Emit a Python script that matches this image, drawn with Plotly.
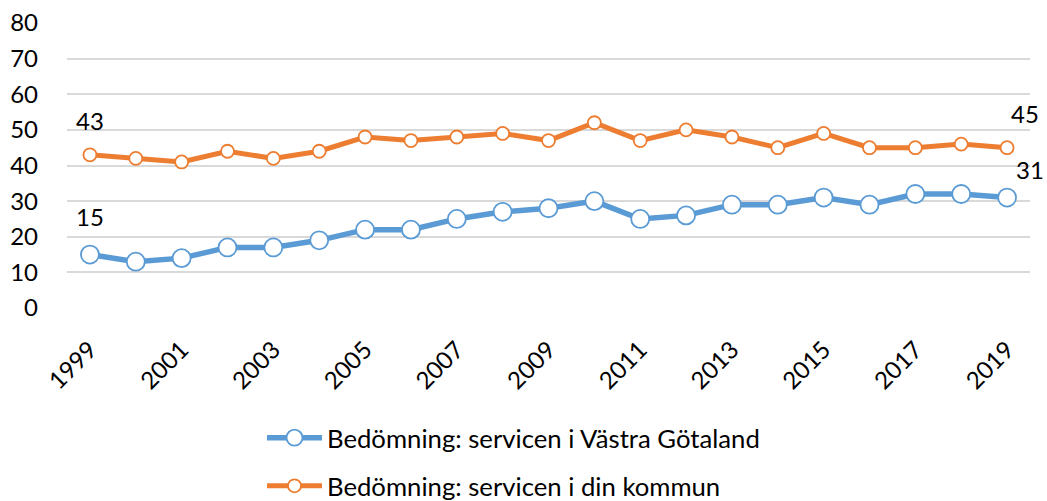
import plotly.graph_objects as go

years = [str(y) for y in range(1999, 2020)]
vg_values = [15, 13, 14, 17, 17, 19, 22, 22, 25, 27, 28, 30, 25, 26, 29, 29, 31, 29, 32, 32, 31]
kommun_values = [43, 42, 41, 44, 42, 44, 48, 47, 48, 49, 47, 52, 47, 50, 48, 45, 49, 45, 45, 46, 45]
tick_years = years[::2]
y_ticks = [0, 10, 20, 30, 40, 50, 60, 70, 80]
name_vg = "Bedömning: servicen i Västra Götaland"
name_kommun = "Bedömning: servicen i din kommun"

BLUE = "#5B9BD5"
ORANGE = "#ED7D31"
FONT = "Lato"

fig = go.Figure()
fig.add_trace(go.Scatter(
    x=years, y=vg_values, name=name_vg, mode="lines+markers",
    line=dict(color=BLUE, width=5.5),
    marker=dict(symbol="circle", size=18, color="white", line=dict(color=BLUE, width=1.8)),
    legend="legend", hoverinfo="x+y",
))
fig.add_trace(go.Scatter(
    x=years, y=kommun_values, name=name_kommun, mode="lines+markers",
    line=dict(color=ORANGE, width=5),
    marker=dict(symbol="circle", size=13, color="white", line=dict(color=ORANGE, width=1.8)),
    legend="legend2", hoverinfo="x+y",
))

last = len(years) - 1
annos = [
    (0, kommun_values[0], 0, 34),
    (0, vg_values[0], 0, 38),
    (last, kommun_values[-1], 18, 34),
    (last, vg_values[-1], 23, 28),
]
for x, y, xs, ys in annos:
    fig.add_annotation(x=x, y=y, xref="x", yref="y", text=str(y), showarrow=False,
                       xshift=xs, yshift=ys, font=dict(family=FONT, size=24, color="#000"))

LEG_X = (262 - 67) / 963
fig.update_layout(
    width=1047, height=501,
    margin=dict(l=67, r=17, t=23, b=193, autoexpand=False),
    paper_bgcolor="white", plot_bgcolor="white",
    font=dict(family=FONT, size=24, color="#000"),
    legend=dict(x=LEG_X, y=-0.456, xanchor="left", yanchor="middle", itemwidth=55,
                font=dict(family=FONT, size=25.7, color="#000"), bgcolor="rgba(0,0,0,0)"),
    legend2=dict(x=LEG_X, y=-0.625, xanchor="left", yanchor="middle", itemwidth=55,
                 font=dict(family=FONT, size=25.7, color="#000"), bgcolor="rgba(0,0,0,0)"),
    showlegend=True,
)
fig.update_xaxes(type="category", tickmode="array", tickvals=tick_years, ticktext=tick_years,
                 tickangle=-45, showgrid=False, showline=False, zeroline=False, automargin=False,
                 ticks="", ticklabelstandoff=22, tickfont=dict(family=FONT, size=24, color="#000"),
                 range=[-0.5, len(years) - 0.5])
fig.update_yaxes(range=[0, 80], tickvals=y_ticks, showgrid=True, gridcolor="#D9D9D9",
                 gridwidth=1.5, zeroline=False, showline=False, ticks="", automargin=False,
                 ticklabelstandoff=28, tickfont=dict(family=FONT, size=24, color="#000"))

fig.write_html("out.html", config={"displayModeBar": False},
               post_script="document.body.style.margin='0px';document.body.style.overflow='hidden';")
